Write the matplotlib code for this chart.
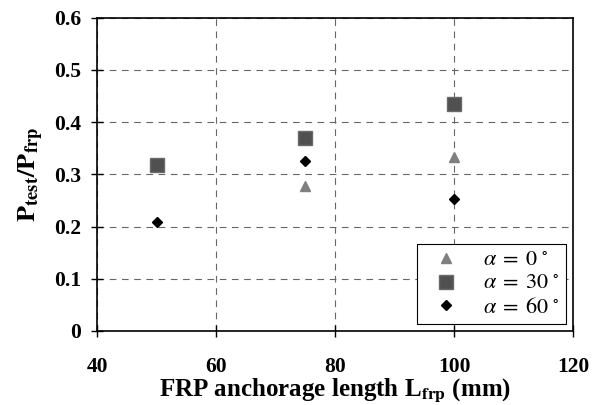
import numpy as np
import matplotlib
matplotlib.use("Agg")
import matplotlib.pyplot as plt

plt.rcParams['font.family'] = ['Liberation Serif', 'DejaVu Serif']
plt.rcParams['mathtext.fontset'] = 'stix'

# 数据
L_a0 = [75, 100]
P_a0 = [0.278, 0.333]
L_a30 = [50, 75, 100]
P_a30 = [0.318, 0.370, 0.435]
L_a60 = [50, 75, 100]
P_a60 = [0.209, 0.326, 0.253]

x_ticks = [40, 60, 80, 100, 120]
y_ticks = [0, 0.1, 0.2, 0.3, 0.4, 0.5, 0.6]
y_tick_labels = ['0', '0.1', '0.2', '0.3', '0.4', '0.5', '0.6']

fig = plt.figure(figsize=(5.92, 4.05), dpi=100)
ax = fig.add_axes([0.164, 0.183, 0.804, 0.773])

ax.plot(L_a0, P_a0, linestyle='none', marker='^', ms=6.5, color='#7f7f7f',
        label=r'$\alpha\;=\;0^{\,\circ}$', zorder=3)
ax.plot(L_a30, P_a30, linestyle='none', marker='s', ms=10.5, color='#505050',
        mec='#6a6a6a', label=r'$\alpha\;=\;30^{\,\circ}$', zorder=3)
ax.plot(L_a60, P_a60, linestyle='none', marker='D', ms=5.5, color='black',
        label=r'$\alpha\;=\;60^{\,\circ}$', zorder=3)

ax.set_xlim(40, 120)
ax.set_ylim(0, 0.6)
ax.set_xticks(x_ticks)
ax.set_yticks(y_ticks)
ax.set_yticklabels(y_tick_labels)
ax.tick_params(direction='inout', length=9, width=1, labelsize=15.5)
ax.tick_params(axis='x', pad=14)
ax.tick_params(axis='y', pad=7)
for lab in ax.get_xticklabels() + ax.get_yticklabels():
    lab.set_fontweight('bold')

ax.grid(True, color='#666666', linestyle=(0, (6, 5)), linewidth=0.8)
ax.set_axisbelow(True)
for sp in ax.spines.values():
    sp.set_linewidth(1.2)

ax.set_xlabel(r'FRP anchorage length L$_{\mathbf{frp}}$ (mm)', fontsize=18,
              fontweight='bold', labelpad=0)
ax.set_ylabel(r'$\mathbf{P_{test}/P_{frp}}$', fontsize=19, labelpad=6)

leg = ax.legend(loc='lower right', fontsize=16, frameon=True, fancybox=False,
                edgecolor='black', framealpha=1, borderaxespad=0.3,
                handletextpad=0.7, labelspacing=0.12, handlelength=2.0,
                borderpad=0.3)
leg.get_frame().set_linewidth(0.8)

fig.savefig('out.png', dpi=100)
